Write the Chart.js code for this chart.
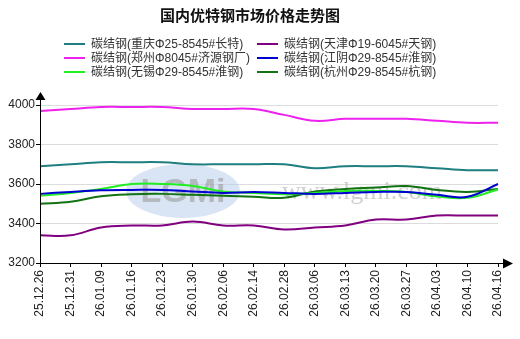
<!DOCTYPE html>
<html>
<head>
<meta charset="utf-8">
<script src="https://cdn.jsdelivr.net/npm/chart.js@4/dist/chart.umd.min.js"></script>
<style>
  body { margin: 0; background: #fff; }
  #wrap { position: relative; width: 520px; height: 339px; }
  #title { position: absolute; left: 0; width: 500px; top: 4px; text-align: center;
    font: bold 15px "Noto Sans CJK SC", sans-serif; color: #111; }
  #legend { position: absolute; left: 0; top: 36px; width: 520px; }
  .item { position: absolute; height: 14px; font: 12px "Liberation Sans", "Noto Sans CJK SC", sans-serif;
    color: #333; white-space: nowrap; line-height: 14px; }
  .item span.sw { display: inline-block; width: 21px; height: 2px; vertical-align: middle; margin-right: 6px; position: relative; top: -1px; }
</style>
</head>
<body>
<div id="wrap">
  <canvas id="c" width="520" height="339"></canvas>
  <div id="title">国内优特钢市场价格走势图</div>
  <div id="legend"></div>
</div>
<script>
// dates on the x axis
var dates = ['25.12.26','25.12.31','26.01.09','26.01.16','26.01.23','26.01.30','26.02.06','26.02.14',
             '26.02.28','26.03.06','26.03.13','26.03.20','26.03.27','26.04.03','26.04.10','26.04.16'];

var seriesNames = ['碳结钢(重庆Φ25-8545#长特)', '碳结钢(天津Φ19-6045#天钢)',
                   '碳结钢(郑州Φ8045#济源钢厂)', '碳结钢(江阴Φ29-8545#淮钢)',
                   '碳结钢(无锡Φ29-8545#淮钢)', '碳结钢(杭州Φ29-8545#杭钢)'];
var seriesColors = ['#1f7f80', '#800080', '#ee22ee', '#0000d0', '#22ee22', '#127312'];

var chongqing = [3690,3700,3710,3710,3710,3700,3700,3700,3700,3680,3690,3690,3690,3680,3670,3670];
var tianjin   = [3340,3340,3380,3390,3390,3410,3390,3390,3370,3380,3390,3420,3420,3440,3440,3440];
var zhengzhou = [3970,3980,3990,3990,3990,3980,3980,3980,3950,3920,3930,3930,3930,3920,3910,3910];
var jiangyin  = [3550,3560,3568,3570,3570,3562,3555,3560,3555,3550,3555,3560,3560,3545,3535,3600];
var wuxi      = [3540,3555,3575,3600,3600,3590,3562,3555,3548,3555,3565,3565,3560,3537,3530,3572];
var hangzhou  = [3500,3510,3538,3548,3550,3545,3540,3535,3530,3562,3575,3582,3590,3570,3560,3575];

var yTicks = [3200, 3400, 3600, 3800, 4000];

var allSeries = [chongqing, tianjin, zhengzhou, jiangyin, wuxi, hangzhou];
var datasets = allSeries.map(function (d, i) {
  return {
    label: seriesNames[i],
    data: d,
    borderColor: seriesColors[i],
    backgroundColor: seriesColors[i],
    borderWidth: 2,
    pointRadius: 0,
    tension: 0.4,
    fill: false
  };
});

// watermark + axis arrows
var decor = {
  id: 'decor',
  beforeDatasetsDraw: function (chart) {
    var ctx = chart.ctx;
    ctx.save();
    ctx.fillStyle = 'rgba(185,208,235,0.55)';
    ctx.beginPath();
    ctx.ellipse(183, 191, 57, 27, 0, 0, Math.PI * 2);
    ctx.fill();
    ctx.fillStyle = 'rgba(150,150,150,0.55)';
    ctx.font = 'bold 34px "Liberation Sans"';
    ctx.textAlign = 'center';
    ctx.textBaseline = 'middle';
    ctx.fillText('LGMi', 183, 193);
    ctx.fillStyle = 'rgba(175,175,175,0.6)';
    ctx.font = '26px "Liberation Serif"';
    ctx.fillText('www.lgmi.com', 362, 192);
    ctx.restore();
  },
  afterDraw: function (chart) {
    var ctx = chart.ctx, a = chart.chartArea;
    ctx.save();
    ctx.strokeStyle = '#000';
    ctx.fillStyle = '#000';
    ctx.lineWidth = 1;
    ctx.beginPath();
    ctx.moveTo(a.left + 0.5, a.bottom);
    ctx.lineTo(a.left + 0.5, 98);
    ctx.moveTo(a.left, a.bottom + 0.5);
    ctx.lineTo(505, a.bottom + 0.5);
    ctx.stroke();
    ctx.beginPath();
    ctx.moveTo(a.left - 4.5, 100);
    ctx.lineTo(a.left + 5.5, 100);
    ctx.lineTo(a.left + 0.5, 92);
    ctx.closePath();
    ctx.fill();
    ctx.beginPath();
    ctx.moveTo(503, a.bottom - 4.5);
    ctx.lineTo(503, a.bottom + 5.5);
    ctx.lineTo(513, a.bottom + 0.5);
    ctx.closePath();
    ctx.fill();
    ctx.restore();
  }
};

var chart = new Chart(document.getElementById('c'), {
  type: 'line',
  data: { labels: dates, datasets: datasets },
  plugins: [decor],
  options: {
    responsive: false,
    animation: false,
    layout: { padding: { top: 105, right: 22, left: 0, bottom: 0 } },
    plugins: { legend: { display: false }, tooltip: { enabled: false } },
    scales: {
      x: {
        border: { display: false },
        grid: { drawOnChartArea: false, tickLength: 4, tickColor: '#000' },
        ticks: { color: '#222', font: { family: 'Liberation Sans', size: 12 },
                 minRotation: 90, maxRotation: 90, padding: 3, autoSkip: false },
        afterFit: function (s) { s.height = 76; }
      },
      y: {
        min: 3200, max: 4000,
        border: { display: false },
        afterBuildTicks: function (s) { s.ticks = yTicks.map(function (v) { return { value: v }; }); },
        grid: { color: '#dcdcdc', tickLength: 4, tickColor: '#000' },
        ticks: { color: '#222', font: { family: 'Liberation Sans', size: 12 }, padding: 1,
                 callback: function (v) { return String(v); } },
        afterFit: function (s) { s.width = 40; }
      }
    }
  }
});

// legend in two fixed columns, built from the datasets
var leg = document.getElementById('legend');
var colX = [64, 257];
chart.data.datasets.forEach(function (ds, i) {
  var el = document.createElement('div');
  el.className = 'item';
  el.style.left = colX[i % 2] + 'px';
  el.style.top = (1 + Math.floor(i / 2) * 14) + 'px';
  el.innerHTML = '<span class="sw" style="background:' + ds.borderColor + '"></span>' + ds.label;
  leg.appendChild(el);
});
</script>
</body>
</html>
